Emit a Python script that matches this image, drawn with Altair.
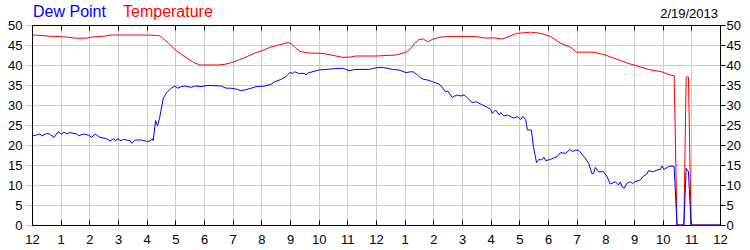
import altair as alt
import pandas as pd

# ---------------- data ----------------
temp_hours = [0.0, 0.3, 0.6, 1.0, 1.3, 1.5, 1.9, 2.1, 2.5, 2.8, 3.3, 3.7, 4.0, 4.3,
              4.46, 4.75, 5.05, 5.4, 5.65, 5.86, 6.3, 6.5, 6.75, 6.95, 7.2, 7.5,
              7.75, 8.0, 8.3, 8.6, 8.93, 9.05, 9.2, 9.35, 9.6, 10.15, 10.5, 10.85,
              11.1, 11.3, 12.0, 12.7, 13.05, 13.2, 13.35, 13.5, 13.65, 13.8, 14.0,
              14.2, 14.45, 15.5, 15.87, 16.1, 16.4, 16.6, 16.9, 17.4, 17.75, 18.1,
              18.45, 18.8, 19.0, 19.6, 20.0, 20.3, 20.8, 21.0, 21.5, 21.97, 22.25,
              22.40, 22.50, 22.74, 22.82, 22.90, 22.99, 24.0]
temp_values = [47.5, 47.4, 47.2, 47.1, 46.9, 46.7, 46.7, 47.0, 47.2, 47.5, 47.5, 47.5,
               47.5, 47.4, 47.3, 45.5, 43.5, 41.7, 40.6, 40.0, 40.0, 40.0, 40.2, 40.6,
               41.2, 42.1, 42.9, 43.5, 44.4, 45.0, 45.6, 45.3, 44.2, 43.4, 43.0, 42.9,
               42.4, 41.9, 42.0, 42.25, 42.25, 42.5, 43.2, 44.0, 45.4, 46.4, 46.5, 45.8,
               46.5, 46.9, 47.1, 47.1, 46.7, 46.8, 46.5, 47.0, 47.9, 48.2, 47.9, 47.1,
               45.4, 44.4, 43.2, 43.2, 42.5, 41.7, 40.4, 40.0, 38.9, 38.3, 37.5, 37.3,
               0.0, 0.0, 37.0, 37.0, 0.0, 0.0]

dew_hours = [0.0, 0.15, 0.28, 0.35, 0.51, 0.6, 0.77, 0.91, 1.03, 1.12, 1.2, 1.33, 1.56,
             1.63, 1.79, 1.96, 2.08, 2.2, 2.37, 2.6, 2.72, 2.85, 2.92, 3.0, 3.1, 3.18,
             3.42, 3.48, 3.6, 3.83, 4.0, 4.12, 4.19, 4.23, 4.31, 4.38, 4.46, 4.58, 4.7,
             4.79, 4.86, 4.98, 5.08, 5.21, 5.33, 5.56, 5.68, 5.9, 6.14, 6.6, 6.77, 6.94,
             7.18, 7.26, 7.42, 7.65, 7.82, 8.12, 8.34, 8.46, 8.69, 8.86, 8.99, 9.1, 9.16,
             9.3, 9.5, 9.56, 9.63, 10.0, 10.25, 10.6, 10.84, 11.06, 11.3, 11.75, 12.0,
             12.23, 12.58, 12.8, 13.05, 13.2, 13.3, 13.45, 13.57, 13.67, 13.8, 13.98,
             14.2, 14.33, 14.42, 14.5, 14.66, 14.82, 14.95, 15.07, 15.17, 15.36, 15.5,
             15.65, 15.88, 16.0, 16.06, 16.17, 16.3, 16.35, 16.46, 16.58, 16.81, 16.93,
             17.05, 17.12, 17.22, 17.28, 17.42, 17.49, 17.6, 17.68, 17.76, 17.86, 17.92,
             18.09, 18.32, 18.44, 18.61, 18.77, 18.85, 18.96, 19.08, 19.18, 19.3, 19.42,
             19.53, 19.59, 19.65, 19.77, 19.94, 20.06, 20.17, 20.35, 20.46, 20.52, 20.58,
             20.66, 20.75, 20.87, 20.95, 21.04, 21.22, 21.33, 21.45, 21.51, 21.68, 21.8,
             21.92, 21.97, 22.05, 22.21, 22.33, 22.40, 22.50, 22.74, 22.82, 22.90, 22.99,
             24.0]
dew_values = [22.25, 22.5, 22.75, 22.25, 22.9, 22.75, 21.9, 23.3, 22.75, 23.2, 22.8, 23.1,
              22.75, 22.3, 22.75, 22.5, 21.9, 22.75, 21.9, 21.6, 21.0, 21.6, 21.1, 21.6,
              21.0, 21.4, 21.1, 20.4, 21.25, 21.25, 20.9, 21.0, 21.6, 21.1, 26.1, 24.75,
              27.1, 31.7, 33.1, 33.75, 34.2, 34.75, 34.2, 34.6, 34.75, 34.4, 34.75, 34.6,
              34.9, 34.75, 34.2, 34.2, 33.9, 33.6, 33.75, 34.2, 34.6, 34.75, 35.2, 35.8,
              36.4, 37.1, 38.1, 37.9, 38.3, 37.9, 37.9, 37.5, 38.0, 38.75, 38.9, 39.1, 39.2,
              38.6, 38.9, 38.9, 39.3, 39.4, 38.9, 38.75, 38.1, 38.3, 38.3, 37.5, 36.7, 36.4,
              36.25, 35.8, 35.25, 34.2, 33.3, 33.5, 31.9, 32.5, 32.25, 32.5, 31.9, 30.6,
              30.8, 30.25, 29.4, 28.9, 27.9, 28.75, 27.5, 28.1, 27.25, 27.5, 26.7, 27.1,
              26.4, 27.1, 26.4, 23.75, 23.75, 19.6, 15.6, 16.4, 16.25, 16.9, 16.1, 16.4,
              17.1, 18.1, 17.9, 18.9, 18.3, 18.75, 18.6, 17.75, 16.7, 15.4, 12.9, 12.9,
              14.4, 13.3, 13.3, 12.1, 10.25, 10.8, 10.0, 10.8, 9.6, 9.2, 10.4, 10.8, 10.4,
              10.8, 11.25, 12.25, 12.75, 13.6, 13.3, 13.75, 13.9, 14.75, 13.9, 14.6, 14.75,
              14.6, 0.0, 0.0, 14.2, 13.3, 0.0, 0.0]

hour_ticks = list(range(25))
value_ticks = list(range(0, 51, 5))
legend_labels = ["Dew Point", "Temperature"]
date_label = ["2/19/2013"]

temp_df = pd.DataFrame({"hour": temp_hours, "value": temp_values})
dew_df = pd.DataFrame({"hour": dew_hours, "value": dew_values})

FONT = "Liberation Sans"
GRID = "#cccccc"
x_scale = alt.Scale(domain=[0, 24], nice=False, zero=False)
y_scale = alt.Scale(domain=[0, 50], nice=False)
label_expr = "datum.value % 12 == 0 ? '12' : '' + (datum.value % 12)"

# temperature line + bottom labels, left labels, grid
temp_line = alt.Chart(temp_df).mark_line(color="#ff0000", strokeWidth=1).encode(
    x=alt.X("hour:Q", scale=x_scale, axis=alt.Axis(
        orient="bottom", values=hour_ticks, labelExpr=label_expr, grid=True,
        gridColor=GRID, ticks=False, domain=False, labelPadding=8,
        labelFlush=False, labelOverlap=False, labelBound=False,
        labelFontSize=13, labelColor="#000000", labelFont=FONT, title=None)),
    y=alt.Y("value:Q", scale=y_scale, axis=alt.Axis(
        orient="left", values=value_ticks, grid=True, gridColor=GRID,
        tickColor=GRID, tickSize=7, domain=False, labelPadding=3,
        labelFlush=False, labelOverlap=False, labelBound=False,
        labelFontSize=13, labelColor="#000000", labelFont=FONT, title=None)),
)

# dew point line + inner bottom ticks (behind the lines), right labels
dew_line = alt.Chart(dew_df).mark_line(color="#0000ff", strokeWidth=1).encode(
    x=alt.X("hour:Q", scale=x_scale, axis=alt.Axis(
        orient="top", offset=-200, values=hour_ticks, labels=False, grid=False,
        ticks=True, tickColor="#000000", tickSize=5, domain=True,
        domainColor="#000000", zindex=0, title=None)),
    y=alt.Y("value:Q", scale=y_scale, axis=alt.Axis(
        orient="right", values=value_ticks, grid=False, ticks=True,
        tickColor="#000000", tickSize=5, domain=True, domainColor="#000000",
        labelFlush=False, labelOverlap=False, labelBound=False,
        labelPadding=1, labelFontSize=13, labelColor="#000000", labelFont=FONT,
        zindex=1, title=None)),
)

# invisible carrier for the inner top ticks and the left frame line
frame = alt.Chart(temp_df).mark_line(strokeOpacity=0).encode(
    x=alt.X("hour:Q", scale=x_scale, axis=alt.Axis(
        orient="bottom", offset=-200, values=hour_ticks, labels=False, grid=False,
        ticks=True, tickColor="#000000", tickSize=5, domain=True,
        domainColor="#000000", zindex=1, title=None)),
    y=alt.Y("value:Q", scale=y_scale, axis=alt.Axis(
        orient="left", labels=False, grid=False, ticks=False, domain=True,
        domainColor="#000000", zindex=1, title=None)),
)

legend_df = pd.DataFrame({"label": legend_labels})
dew_title = alt.Chart(legend_df).transform_filter(alt.datum.label == legend_labels[0]).mark_text(
    align="left", baseline="alphabetic", fontSize=16, font=FONT, color="#0000ff"
).encode(x=alt.value(1), y=alt.value(-8), text="label:N")
temp_title = alt.Chart(legend_df).transform_filter(alt.datum.label == legend_labels[1]).mark_text(
    align="left", baseline="alphabetic", fontSize=16, font=FONT, color="#ff0000"
).encode(x=alt.value(91), y=alt.value(-8), text="label:N")
date_text = alt.Chart(pd.DataFrame({"label": date_label})).mark_text(
    align="right", baseline="alphabetic", fontSize=13, font=FONT, color="#000000"
).encode(x=alt.value(686), y=alt.value(-7), text="label:N")

chart = alt.layer(temp_line, dew_line, frame, dew_title, temp_title, date_text).resolve_axis(
    x="independent", y="independent"
).properties(
    width=688, height=200,
    autosize=alt.AutoSizeParams(type="none"),
    padding={"left": 32, "top": 25, "right": 30, "bottom": 25},
    background="#ffffff",
).configure_view(stroke=None)

chart.save("out.html", embed_options={"renderer": "svg", "actions": False})
